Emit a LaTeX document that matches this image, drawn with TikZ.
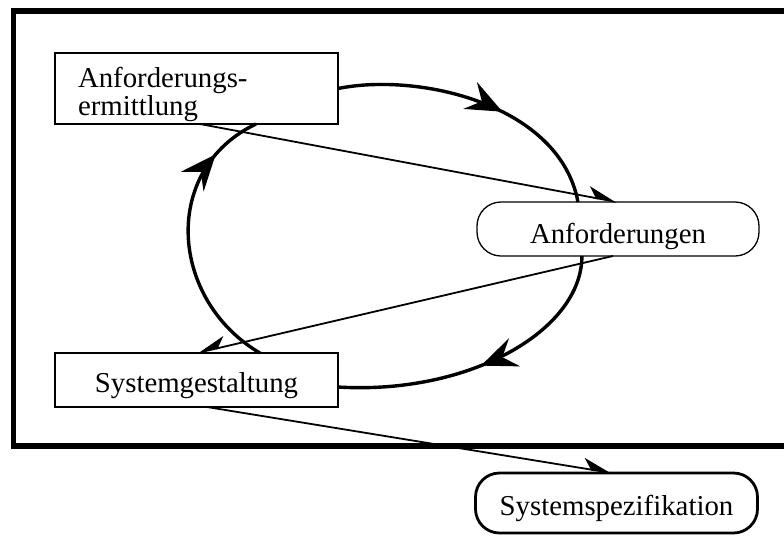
\documentclass[tikz,border=0pt]{standalone}
\usepackage{fontspec}
\setmainfont{Liberation Serif}
\usetikzlibrary{arrows.meta,calc,decorations.markings}

\begin{document}
\begin{tikzpicture}[x=1pt,y=-1pt,
  every node/.style={font=\fontsize{28.8}{28}\selectfont},
  activity/.style={draw,line width=2.4pt,rectangle,outer sep=0pt,inner sep=0pt,
    minimum width=283pt,minimum height=54pt,text height=24pt,text depth=0pt},
  product/.style={draw,rectangle,rounded corners=24pt,outer sep=0pt,inner sep=0pt,
    minimum width=282pt,text depth=0pt},
  flow/.style={line width=1.8pt,
    -{Stealth[harpoon,length=27pt,width=21pt,inset=8pt]}},
  flowswap/.style={line width=1.8pt,
    -{Stealth[harpoon,swap,length=27pt,width=21pt,inset=8pt]}},
  cycle/.style={line width=3.4pt,postaction={decorate},
    decoration={markings,
      mark=at position #1 with {\arrow{Stealth[length=36pt,width=30pt,inset=13pt]}}}}
]
\clip (0,0) rectangle (784,536);

% outer frame
\draw[line width=5.8pt] (13.5,11) rectangle (820,446);

% activities
\node[draw,line width=2.4pt,rectangle,outer sep=0pt,inner xsep=23pt,inner ysep=0pt,
      text width=237pt,align=left,anchor=north west]
  (ae) at (55,53) {\rule{0pt}{34pt}Anforderungs-\\ermittlung\rule[-9pt]{0pt}{9pt}};
\node[activity] (sg) at (196.5,380) {Systemgestaltung};

% products
\node[product,line width=1.3pt,minimum height=54pt,text height=28pt] (an) at (618,229) {Anforderungen};
\node[product,line width=2.8pt,minimum height=60pt,text height=24pt] (ss) at (616.5,503) {Systemspezifikation};

% development cycle
\draw[cycle=0.58] (ae.east) .. controls (420,72) and (560,105) ..
  ($(an.north west)!0.358!(an.north east)$);
\draw[cycle=0.52] ($(an.south west)!0.372!(an.south east)$) .. controls (582,330) and (470,395) ..
  ($(sg.north east)!0.63!(sg.south east)$);
\draw[cycle=0.82] ($(sg.north west)!0.724!(sg.north east)$) .. controls (170,300) and (160,170) ..
  ($(ae.south west)!0.71!(ae.south east)$);

% information flow
\draw[flow] ($(ae.south west)!0.512!(ae.south east)$) -- ($(an.north west)!0.496!(an.north east)$);
\draw[flowswap] ($(an.south west)!0.482!(an.south east)$) -- ($(sg.north west)!0.502!(sg.north east)$);
\draw[flow] ($(sg.south west)!0.537!(sg.south east)$) -- ($(ss.north west)!0.484!(ss.north east)$);
\end{tikzpicture}
\end{document}
